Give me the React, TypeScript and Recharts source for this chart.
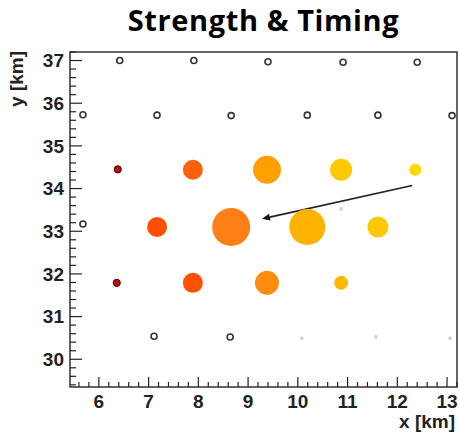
import React from 'react';
import { ScatterChart, Scatter, XAxis, YAxis, ZAxis, ReferenceLine, ReferenceArea } from 'recharts';

// Triggered stations: position (km), signal strength (rel. units), timing (0 = late/red, 1 = early/yellow)
const hitX = [6.38, 7.89, 9.38, 10.87, 12.36, 7.17, 8.66, 10.19, 11.61, 6.36, 7.89, 9.38, 10.87];
const hitY = [34.45, 34.44, 34.44, 34.44, 34.44, 33.1, 33.1, 33.1, 33.1, 31.79, 31.79, 31.79, 31.79];
const hitStrength = [3.6, 27.7, 54, 33.5, 10, 27.7, 100, 90, 30.5, 3.6, 27.7, 40, 13.6];
const hitTiming = [0, 0.33, 0.6, 0.85, 1.0, 0.25, 0.47, 0.72, 0.85, 0, 0.25, 0.52, 0.76];

// Silent stations (open circles)
const silentX = [6.42, 7.91, 9.40, 10.91, 12.40, 5.68, 7.17, 8.66, 10.19, 11.61, 13.10, 5.68, 7.11, 8.64];
const silentY = [37.0, 37.0, 36.97, 36.96, 36.96, 35.73, 35.72, 35.71, 35.72, 35.72, 35.71, 33.17, 30.54, 30.52];

// Inactive stations (faint dots)
const offX = [10.87, 10.08, 11.57, 13.06];
const offY = [33.52, 30.49, 30.52, 30.49];

// Shower axis direction (arrow)
const arrowFrom = { x: 12.30, y: 34.07 };
const arrowTo = { x: 9.28, y: 33.29 };

const xMajorTicks = [6, 7, 8, 9, 10, 11, 12, 13];
const yMajorTicks = [30, 31, 32, 33, 34, 35, 36, 37];
const xDomain: [number, number] = [5.42, 13.2];
const yDomain: [number, number] = [29.35, 37.2];

const minorTicks = (lo: number, hi: number) => {
  const out: number[] = [];
  for (let i = Math.ceil(lo * 5 - 1e-9); i <= Math.floor(hi * 5 + 1e-9); i++) out.push(+(i / 5).toFixed(2));
  return out;
};
const xTicks = minorTicks(xDomain[0], xDomain[1]);
const yTicks = minorTicks(yDomain[0], yDomain[1]);

const hits = hitX.map((x, i) => ({ x, y: hitY[i], strength: hitStrength[i], timing: hitTiming[i] }));
const silent = silentX.map((x, i) => ({ x, y: silentY[i] }));
const off = offX.map((x, i) => ({ x, y: offY[i] }));

const stops: [number, number[]][] = [
  [0, [190, 12, 12]],
  [0.25, [255, 80, 0]],
  [0.45, [255, 122, 26]],
  [0.6, [255, 160, 0]],
  [0.75, [255, 184, 0]],
  [0.85, [255, 200, 0]],
  [1.0, [255, 216, 0]],
];
const colorFor = (t: number) => {
  for (let i = 1; i < stops.length; i++) {
    if (t <= stops[i][0]) {
      const [t0, c0] = stops[i - 1];
      const [t1, c1] = stops[i];
      const f = (t - t0) / (t1 - t0);
      const c = c0.map((v, k) => Math.round(v + (c1[k] - v) * f));
      return `rgb(${c[0]},${c[1]},${c[2]})`;
    }
  }
  const c = stops[stops.length - 1][1];
  return `rgb(${c[0]},${c[1]},${c[2]})`;
};

const isMajorX = (v: number) => xMajorTicks.some((m) => Math.abs(m - v) < 1e-6);
const isMajorY = (v: number) => yMajorTicks.some((m) => Math.abs(m - v) < 1e-6);
const tickFont = { fontFamily: '"Liberation Sans", Arial, sans-serif', fontWeight: 700, fontSize: 19, fill: '#222' };

const YTick = (props: any) => {
  const { x, y, payload } = props;
  const v = payload.value;
  const major = isMajorY(v);
  const X = Number(x);
  const Y = Number(y);
  return (
    <g>
      <path d={`M${X},${Y}H${X + (major ? 12 : 6)}`} stroke="#222" strokeWidth={1.2} fill="none" />
      {major && (
        <text x={X - 6} y={Y} dy="0.36em" textAnchor="end" {...tickFont}>
          {Math.round(v)}
        </text>
      )}
    </g>
  );
};

const XTick = (props: any) => {
  const { x, y, payload } = props;
  const v = payload.value;
  const major = isMajorX(v);
  const X = Number(x);
  const Y = Number(y);
  return (
    <g>
      <path d={`M${X},${Y}V${Y - (major ? 10 : 5)}`} stroke="#222" strokeWidth={1.2} fill="none" />
      {major && (
        <text x={X} y={Y + 21} textAnchor="middle" {...tickFont}>
          {Math.round(v)}
        </text>
      )}
    </g>
  );
};

const HitShape = (props: any) => {
  const { cx, cy, width, payload } = props;
  const r = width / 2;
  const early = payload.timing === 0;
  return (
    <circle cx={cx} cy={cy} r={r} fill={colorFor(payload.timing)} stroke={early ? '#4a0000' : 'none'} strokeWidth={early ? 1 : 0} />
  );
};

const SilentShape = (props: any) => (
  <circle cx={props.cx} cy={props.cy} r={3} fill="#fff" stroke="#333" strokeWidth={1.6} />
);
const OffShape = (props: any) => <circle cx={props.cx} cy={props.cy} r={2} fill="#d6d6d6" />;

const ArrowShape = (props: any) => {
  const { x1, y1, x2, y2 } = props;
  const ang = Math.atan2(y2 - y1, x2 - x1);
  const L = 8;
  const W = 3.5;
  const bx = x2 - L * Math.cos(ang);
  const by = y2 - L * Math.sin(ang);
  const px = -Math.sin(ang) * W;
  const py = Math.cos(ang) * W;
  return (
    <g>
      <line x1={x1} y1={y1} x2={bx} y2={by} stroke="#222" strokeWidth={1.6} />
      <polygon points={`${x2},${y2} ${bx + px},${by + py} ${bx - px},${by - py}`} fill="#111" />
    </g>
  );
};

export default function App() {
  return (
    <div style={{ position: 'absolute', left: 0, top: 0, width: 459, height: 442, background: '#fff' }}>
      <ScatterChart width={459} height={442} margin={{ top: 52, right: 2, bottom: 0, left: 0 }}>
        <XAxis
          type="number"
          dataKey="x"
          domain={xDomain}
          allowDataOverflow
          ticks={xTicks}
          interval={0}
          tick={XTick}
          tickSize={0}
          tickMargin={0}
          tickLine={false}
          height={55}
          axisLine={false}
        />
        <YAxis
          type="number"
          dataKey="y"
          domain={yDomain}
          allowDataOverflow
          ticks={yTicks}
          interval={0}
          tick={YTick}
          tickSize={0}
          tickMargin={0}
          tickLine={false}
          width={70}
          axisLine={false}
        />
        <ZAxis type="number" dataKey="strength" domain={[0, 100]} range={[0, Math.PI * 19 * 19]} />
        <ReferenceArea
          x1={xDomain[0]}
          x2={xDomain[1]}
          y1={yDomain[0]}
          y2={yDomain[1]}
          fill="none"
          fillOpacity={0}
          stroke="#333"
          strokeWidth={1.5}
          strokeOpacity={1}
          ifOverflow="visible"
        />
        <Scatter data={off} shape={<OffShape />} isAnimationActive={false} />
        <Scatter data={silent} shape={<SilentShape />} isAnimationActive={false} />
        <Scatter data={hits} shape={<HitShape />} isAnimationActive={false} />
        <ReferenceLine segment={[arrowFrom, arrowTo]} shape={<ArrowShape />} ifOverflow="visible" />
      </ScatterChart>
      <svg width={459} height={442} style={{ position: 'absolute', left: 0, top: 0, pointerEvents: 'none' }}>
        <text x={263.5} y={31} textAnchor="middle" fontFamily='"Open Sans", "Noto Sans", sans-serif' fontWeight={700} fontSize={29} letterSpacing={0.6} fill="#000">
          Strength &amp; Timing
        </text>
        <text
          transform="translate(23, 51) rotate(-90)"
          textAnchor="end"
          fontFamily='"Liberation Sans", Arial, sans-serif'
          fontWeight={700}
          fontSize={19}
          fill="#222"
        >
          y [km]
        </text>
        <text x={455} y={428} textAnchor="end" fontFamily='"Liberation Sans", Arial, sans-serif' fontWeight={700} fontSize={19} fill="#222">
          x [km]
        </text>
      </svg>
    </div>
  );
}
